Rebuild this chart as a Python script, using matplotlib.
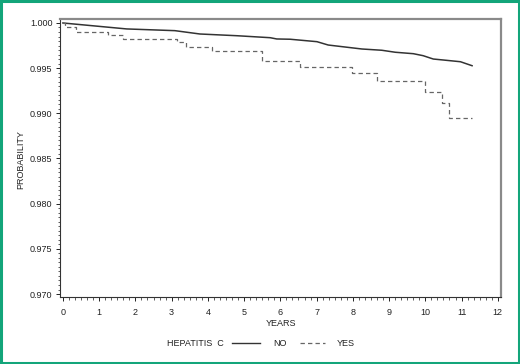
import matplotlib
matplotlib.use("Agg")
import matplotlib.pyplot as plt
from matplotlib.lines import Line2D
from matplotlib.patches import Rectangle
from matplotlib.ticker import MultipleLocator

plt.rcParams['font.family'] = ['Liberation Sans', 'DejaVu Sans']

# Hepatitis C = NO (solid)
no_years = [0.0, 1.76, 3.09, 3.78, 4.80, 5.72, 5.90, 6.27, 7.01, 7.32, 8.25, 8.80,
            9.17, 9.67, 9.94, 10.22, 10.50, 10.97, 11.29]
no_prob = [1.0000, 0.99934, 0.99915, 0.99878, 0.99859, 0.99837, 0.99823, 0.99820,
           0.99793, 0.99756, 0.99712, 0.99698, 0.99676, 0.99660, 0.99638, 0.99601,
           0.99590, 0.99571, 0.99527]

# Hepatitis C = YES (dashed, step)
yes_years = [0.0, 0.05, 0.35, 1.25, 1.65, 3.15, 3.40, 4.12, 5.50, 6.55, 7.98, 8.67,
             10.00, 10.47, 10.66, 11.30]
yes_prob = [1.0000, 0.99960, 0.99905, 0.99865, 0.99822, 0.99793, 0.99738, 0.99693,
            0.99574, 0.99516, 0.99444, 0.99361, 0.99240, 0.99111, 0.98952, 0.98952]

x_ticks = list(range(0, 13))
y_ticks = [0.970, 0.975, 0.980, 0.985, 0.990, 0.995, 1.000]
y_tick_labels = ["0.970", "0.975", "0.980", "0.985", "0.990", "0.995", "1.000"]

W, H = 520, 364
fig = plt.figure(figsize=(W / 100, H / 100), dpi=100)
fig.patch.set_facecolor('white')

# green frame
fig.add_artist(Rectangle((0.002, 0.003), 0.996, 0.994, transform=fig.transFigure,
                         fill=False, edgecolor='#13a57a', linewidth=2.2))

ax = fig.add_axes([60 / W, 1 - 297 / H, (500.7 - 60) / W, (297 - 19) / H])
ax.set_xlim(-0.08, 12.08)
ax.set_ylim(0.96967, 1.00044)

ax.plot(no_years, no_prob, color='#333333', linewidth=1.1, solid_joinstyle='round')
ax.step(yes_years, yes_prob, where='post', color='#666666', linewidth=0.9,
        linestyle=(0, (3.5, 2.5)))

ax.set_xticks(x_ticks)
ax.set_xticklabels([str(v) for v in x_ticks])
ax.set_yticks(y_ticks)
ax.set_yticklabels(y_tick_labels)
ax.xaxis.set_minor_locator(MultipleLocator(1 / 6))
ax.yaxis.set_minor_locator(MultipleLocator(0.0005))

ax.tick_params(axis='both', which='major', direction='out', length=3, width=0.7,
               labelsize=6.5, colors='#222222')
ax.tick_params(axis='x', which='major', pad=5)
ax.tick_params(axis='y', which='major', pad=2.5)
ax.tick_params(axis='both', which='minor', direction='out', length=1.8, width=0.6,
               colors='#444444')

for s in ['left', 'bottom']:
    ax.spines[s].set_color('#333333')
    ax.spines[s].set_linewidth(0.8)
for s in ['top', 'right']:
    ax.spines[s].set_color('#8a8a8a')
    ax.spines[s].set_linewidth(1.6)

fig.text(281 / W, 1 - 324 / H, "YEARS", ha='center', va='center', fontsize=6.5,
         color='#222222')
fig.text(20.5 / W, 1 - 160 / H, "PROBABILITY", ha='center', va='center',
         rotation=90, fontsize=6.5, color='#222222')

# legend
ly = 1 - 343 / H
fig.text(167 / W, ly, "HEPATITIS  C", ha='left', va='center', fontsize=6.5,
         color='#222222')
fig.add_artist(Line2D([232 / W, 260 / W], [ly, ly], transform=fig.transFigure,
                      color='#333333', linewidth=1.0))
fig.text(273 / W, ly, "NO", ha='left', va='center', fontsize=6.5, color='#222222')
fig.add_artist(Line2D([300 / W, 325 / W], [ly, ly], transform=fig.transFigure,
                      color='#666666', linewidth=0.9, linestyle=(0, (3.5, 2.5))))
fig.text(337 / W, ly, "YES", ha='left', va='center', fontsize=6.5, color='#222222')

fig.savefig("out.png", dpi=100, facecolor='white')
